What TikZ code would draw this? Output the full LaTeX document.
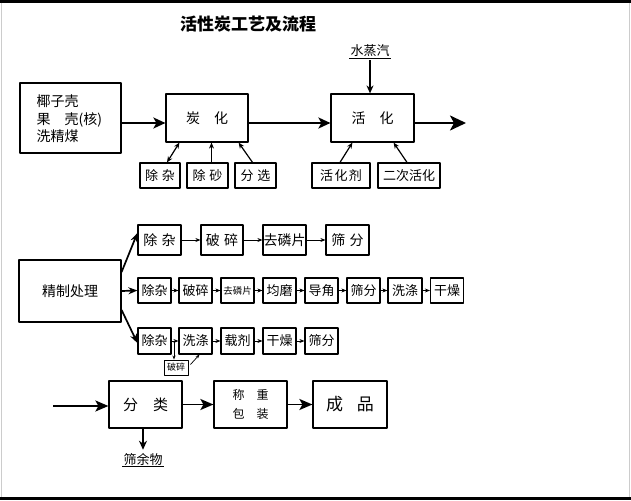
\documentclass[tikz,border=0pt]{standalone}
\usepackage{fontspec}
\newfontfamily\cjk{Noto Sans CJK SC}
\usetikzlibrary{arrows.meta}
\tikzset{
  box/.style={draw, line width=1.2pt, inner sep=0pt, align=center},
  smallbox/.style={box, minimum width=#1, minimum height=25pt, font=\cjk\fontsize{13}{15}\selectfont},
  bigarrow/.style={line width=2pt, -{Stealth[length=12pt,width=11pt,inset=3pt]}},
  thinarrow/.style={line width=1pt, -{Stealth[length=5pt,width=4pt]}},
}
\begin{document}
\begin{tikzpicture}[x=1pt, y=-1pt, line join=round, >=stealth, font=\cjk\fontsize{13}{15}\selectfont]
\useasboundingbox (0,0) rectangle (631,500);
% frame
\fill[black] (0,0) rectangle (631,3);
\fill[black] (0,497) rectangle (631,500);
\draw[black!20] (1.5,3) -- (1.5,497) (629.5,3) -- (629.5,497);
% title
\node[font=\cjk\bfseries\fontsize{17}{19}\selectfont] (title) at (248,24) {活性炭工艺及流程};

% carbonization and activation
\node[box, minimum width=101pt, minimum height=70pt] (raw) at (70.5,118) {};
\node[anchor=west, align=left, font=\cjk\fontsize{14}{17.5}\selectfont] (rawtext) at (33,119)
  {椰子壳\\果\hspace{1em}壳(核)\\洗精煤};
\node[box, minimum width=82pt, minimum height=48pt, font=\cjk\fontsize{14}{16}\selectfont] (tanhua) at (207,118) {炭\hspace{1em}化};
\node[box, minimum width=83pt, minimum height=48pt, font=\cjk\fontsize{14}{16}\selectfont] (huohua) at (372.5,118) {活\hspace{1em}化};
\node[inner sep=1pt] (steam) at (370,51) {水蒸汽};
\draw[line width=1pt] (steam.south west) -- (steam.south east);
\coordinate (out) at (466,123);

\node[smallbox=40pt] (zc) at (160,175.5) {除\hspace{0.3em}杂};
\node[smallbox=41pt] (cs) at (207.5,175.5) {除\hspace{0.3em}砂};
\node[smallbox=41pt] (fx) at (255.5,175.5) {分\hspace{0.3em}选};
\node[smallbox=58pt] (hhj) at (341,175.5) {活\hspace{0.1em}化\hspace{0.1em}剂};
\node[smallbox=62pt] (ech) at (409,175.5) {二次活化};

\draw[bigarrow] ([yshift=-5pt]raw.east) -- ([yshift=-5pt]tanhua.west);
\draw[bigarrow] ([yshift=-5pt]tanhua.east) -- ([yshift=-5pt]huohua.west);
\draw[line width=2.2pt, -{Stealth[length=16pt,width=15pt,inset=4pt]}] ([yshift=-5pt]huohua.east) -- (out);
\draw[line width=1.3pt, -{Stealth[length=8pt,width=7pt]}] ([yshift=-2pt]steam.south) -- (huohua.north -| steam);
\draw[line width=1.2pt, {Stealth[length=6pt,width=5pt]}-{Stealth[length=6pt,width=5pt]}] ([xshift=7pt]zc.north) -- ([xshift=14pt]tanhua.south west);
\draw[line width=1.2pt, -{Stealth[length=6pt,width=5pt]}] ([xshift=4pt]cs.north) -- ([xshift=4pt]cs.north |- tanhua.south);
\draw[line width=1.2pt, -{Stealth[length=6pt,width=5pt]}] ([xshift=-3pt]fx.north) -- ([xshift=-10pt]tanhua.south east);
\draw[line width=1.2pt, -{Stealth[length=6pt,width=5pt]}] ([xshift=-1pt]hhj.north) -- ([xshift=22pt]huohua.south west);
\draw[line width=1.2pt, -{Stealth[length=6pt,width=5pt]}] ([xshift=-2pt]ech.north) -- ([xshift=-21pt]huohua.south east);

% refining
\node[box, minimum width=102pt, minimum height=62pt, font=\cjk\fontsize{14}{16}\selectfont] (jz) at (70,291) {精制处理};

\node[box, minimum width=43pt, minimum height=30pt, font=\cjk\fontsize{14}{16}\selectfont] (ra1) at (159.5,240) {除\hspace{0.3em}杂};
\node[box, minimum width=42pt, minimum height=30pt, font=\cjk\fontsize{14}{16}\selectfont] (ra2) at (222,240) {破\hspace{0.3em}碎};
\node[box, minimum width=43pt, minimum height=30pt, font=\cjk\fontsize{14}{16}\selectfont] (ra3) at (284.5,240) {去磷片};
\node[box, minimum width=43pt, minimum height=30pt, font=\cjk\fontsize{14}{16}\selectfont] (ra4) at (347.5,240) {筛\hspace{0.3em}分};
\draw[thinarrow] (ra1) -- (ra2);
\draw[thinarrow] (ra2) -- (ra3);
\draw[thinarrow] (ra3) -- (ra4);

\node[smallbox=33pt] (rb1) at (154.5,290.5) {除杂};
\node[smallbox=33pt] (rb2) at (195.5,290.5) {破碎};
\node[smallbox=33pt, font=\cjk\fontsize{9.5}{11}\selectfont] (rb3) at (237.5,290.5) {去磷片};
\node[smallbox=33pt] (rb4) at (279.5,290.5) {均磨};
\node[smallbox=33pt] (rb5) at (321.5,290.5) {导角};
\node[smallbox=33pt] (rb6) at (363.5,290.5) {筛分};
\node[smallbox=34pt] (rb7) at (405,290.5) {洗涤};
\node[smallbox=33pt] (rb8) at (447,290.5) {干燥};
\draw[thinarrow] (rb1) -- (rb2);
\draw[thinarrow] (rb2) -- (rb3);
\draw[thinarrow] (rb3) -- (rb4);
\draw[thinarrow] (rb4) -- (rb5);
\draw[thinarrow] (rb5) -- (rb6);
\draw[thinarrow] (rb6) -- (rb7);
\draw[thinarrow] (rb7) -- (rb8);

\node[smallbox=33pt, minimum height=26pt] (rc1) at (154.5,341) {除杂};
\node[smallbox=33pt, minimum height=26pt] (rc2) at (195.5,341) {洗涤};
\node[smallbox=33pt, minimum height=26pt] (rc3) at (237.5,341) {载剂};
\node[smallbox=33pt, minimum height=26pt] (rc4) at (279.5,341) {干燥};
\node[smallbox=33pt, minimum height=26pt] (rc5) at (321.5,341) {筛分};
\draw[thinarrow] (rc1) -- (rc2);
\draw[thinarrow] (rc2) -- (rc3);
\draw[thinarrow] (rc3) -- (rc4);
\draw[thinarrow] (rc4) -- (rc5);
\node[box, line width=0.9pt, minimum width=24pt, minimum height=15pt, font=\cjk\fontsize{9}{10}\selectfont] (ps) at (176,367.5) {破碎};
\draw[line width=0.7pt, -{Stealth[length=4pt,width=3pt]}] ([xshift=-2pt]ps.north |- rc1.east) -- ([xshift=-2pt]ps.north);
\draw[line width=0.7pt, -{Stealth[length=4pt,width=3pt]}] ([xshift=2pt,yshift=3pt]ps.east) -- ([xshift=4pt]rc2.south);

\draw[line width=1.7pt, -{Stealth[length=9pt,width=7pt]}] ([yshift=19pt]jz.east) -- ([yshift=7pt]ra1.west);
\draw[line width=1.7pt, -{Stealth[length=9pt,width=7pt]}] (jz.east) -- (rb1.west);
\draw[line width=1.7pt, -{Stealth[length=9pt,width=7pt]}] ([yshift=-19pt]jz.east) -- ([yshift=-2pt]rc1.west);

% sorting and packing
\coordinate (in) at (53,406);
\node[box, minimum width=73pt, minimum height=47pt, font=\cjk\fontsize{15}{17}\selectfont] (fl) at (145.5,404.5) {分\hspace{1em}类};
\node[box, minimum width=73pt, minimum height=47pt, font=\cjk\fontsize{12}{19}\selectfont] (bz) at (250.5,404.5) {称\hspace{1em}重\\包\hspace{1em}装};
\node[box, minimum width=74pt, minimum height=47pt, font=\cjk\fontsize{17}{19}\selectfont] (cp) at (350,404.5) {成\hspace{0.8em}品};
\node[inner sep=1pt] (sy) at (143,459) {筛余物};
\draw[line width=1pt] (sy.south west) -- (sy.south east);
\draw[line width=1.8pt, -{Stealth[length=13pt,width=11pt,inset=3pt]}] (in) -- (fl.west |- in);
\draw[line width=1.8pt, -{Stealth[length=13pt,width=11pt,inset=3pt]}] (fl) -- (bz);
\draw[line width=1.8pt, -{Stealth[length=13pt,width=11pt,inset=3pt]}] (bz) -- (cp);
\draw[line width=1.5pt, -{Stealth[length=9pt,width=8pt]}] (fl.south -| sy) -- ([yshift=2pt]sy.north);
\end{tikzpicture}
\end{document}
